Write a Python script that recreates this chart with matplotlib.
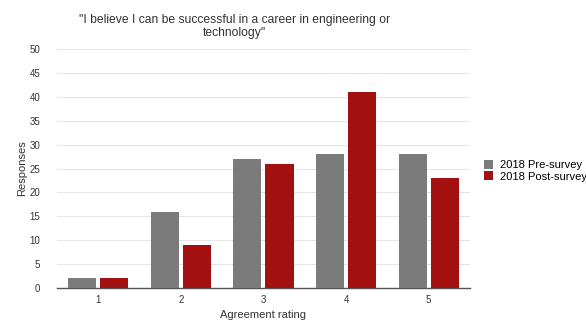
import matplotlib
matplotlib.use("Agg")
import matplotlib.pyplot as plt
import numpy as np

categories = ["1", "2", "3", "4", "5"]
pre_survey = [2, 16, 27, 28, 28]
post_survey = [2, 9, 26, 41, 23]
series_labels = ["2018 Pre-survey", "2018 Post-survey"]
title = "\"I believe I can be successful in a career in engineering or\ntechnology\""

plt.rcParams['font.family'] = ['Liberation Sans', 'DejaVu Sans']

fig = plt.figure(figsize=(5.86, 3.21), dpi=100)
ax = fig.add_axes([0.097, 0.103, 0.705, 0.744])

x = np.arange(1, len(categories) + 1)
w = 0.34
gap = 0.025
ax.bar(x - w/2 - gap, pre_survey, w, color="#7b7b7b", label=series_labels[0], zorder=3)
ax.bar(x + w/2 + gap, post_survey, w, color="#a31010", label=series_labels[1], zorder=3)

ax.set_xlim(0.5, 5.5)
ax.set_ylim(0, 50)
ax.set_yticks(range(0, 51, 5))
ax.set_xticks(x)
ax.set_xticklabels(categories)
ax.tick_params(axis='both', length=0, labelsize=7, colors="#333333")
ax.tick_params(axis='y', pad=12)
ax.tick_params(axis='x', pad=5)
ax.grid(axis='y', color="#e6e6e6", linewidth=0.8, zorder=0)
for s in ['top', 'right', 'left']:
    ax.spines[s].set_visible(False)
ax.spines['bottom'].set_color("#555555")
ax.spines['bottom'].set_linewidth(1.0)

ax.set_xlabel("Agreement rating", fontsize=8, color="#333333", labelpad=4)
ax.set_ylabel("Responses", fontsize=8, color="#333333", labelpad=2)
fig.text(0.40, 0.918, title, ha='center', va='center', fontsize=8.7, color="#333333", linespacing=1.1)

ax.legend(loc='center left', bbox_to_anchor=(1.01, 0.49), frameon=False, fontsize=8,
          handlelength=0.8, handleheight=0.8, handletextpad=0.6, labelspacing=0.1)

fig.savefig("out.png", dpi=100)
